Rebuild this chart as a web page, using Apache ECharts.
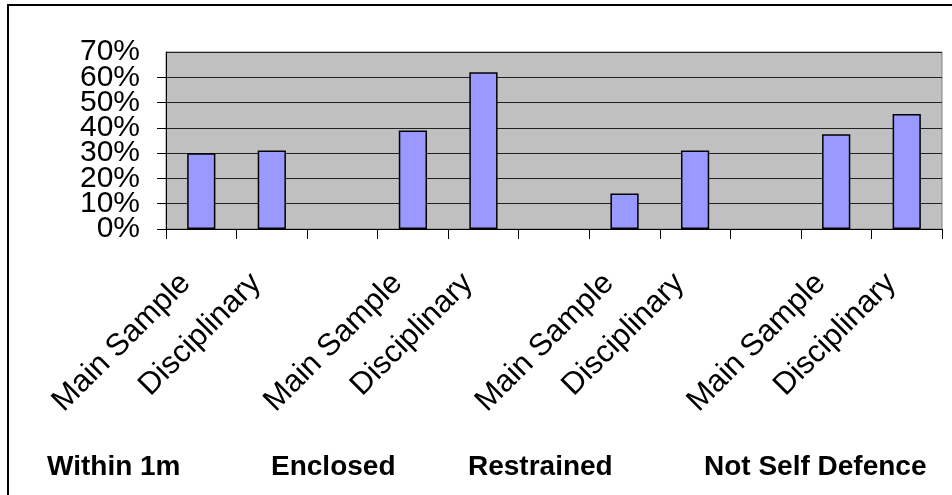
<!DOCTYPE html>
<html>
<head>
<meta charset="utf-8">
<script src="https://cdn.jsdelivr.net/npm/echarts@6/dist/echarts.min.js"></script>
<style>
html,body{margin:0;padding:0;background:#fff;}
#chart{width:952px;height:495px;}
</style>
</head>
<body>
<div id="chart"></div>
<script>
var categories = ['Main Sample','Disciplinary','','Main Sample','Disciplinary','','Main Sample','Disciplinary','','Main Sample','Disciplinary'];
var values = [0.30, 0.31, null, 0.39, 0.62, null, 0.14, 0.31, null, 0.375, 0.455];
var yTicks = [0, 0.1, 0.2, 0.3, 0.4, 0.5, 0.6, 0.7];
var groupLabels = ['Within 1m', 'Enclosed', 'Restrained', 'Not Self Defence'];
var groupLabelX = [47, 271, 468, 704];

var FONT = '"Liberation Sans", Arial, sans-serif';
var chart = echarts.init(document.getElementById('chart'));

var graphics = [{
  type: 'rect',
  shape: {x: 8, y: 5, width: 1000, height: 600},
  style: {fill: 'none', stroke: '#000', lineWidth: 2},
  silent: true
}];
groupLabels.forEach(function (t, i) {
  graphics.push({
    type: 'text',
    x: groupLabelX[i], y: 467,
    style: {text: t, font: 'bold 28px ' + FONT, fill: '#000', verticalAlign: 'middle', align: 'left'}
  });
});

function pct(v) { return Math.round(v * 100); }
function yAxisFor(parity, main) {
  return {
    type: 'value',
    position: 'left',
    min: yTicks[0], max: yTicks[yTicks.length - 1], interval: 0.1,
    axisLine: {show: main, lineStyle: {color: '#000', width: 1}},
    axisTick: {show: main, length: 9, lineStyle: {color: '#000'}},
    axisLabel: {margin: 26, fontSize: 30, fontFamily: FONT, color: '#000',
      showMinLabel: parity === 0, showMaxLabel: parity === 1, hideOverlap: false,
      formatter: function (v) { var p = pct(v); return (p / 10) % 2 === parity ? p + '%' : ''; }},
    splitLine: {show: main, lineStyle: {color: '#222', width: 1}}
  };
}

chart.setOption({
  animation: false,
  backgroundColor: '#fff',
  grid: {left: 166, right: 10, top: 52, bottom: 266, show: true, backgroundColor: '#C0C0C0', borderColor: '#808080', borderWidth: 1},
  xAxis: {
    type: 'category',
    data: categories,
    boundaryGap: true,
    axisLine: {show: true, lineStyle: {color: '#000', width: 1}},
    axisTick: {show: true, interval: 0, length: 10, lineStyle: {color: '#000'}},
    axisLabel: {interval: 0, rotate: 45, margin: 34, padding: [0, 22, 0, 0], fontSize: 31, fontFamily: FONT, color: '#000', hideOverlap: false},
    splitLine: {show: false}
  },
  yAxis: [yAxisFor(0, true), yAxisFor(1, false)],
  series: [{
    type: 'bar',
    yAxisIndex: 0,
    data: values,
    barWidth: '40%',
    itemStyle: {color: '#9999FF', borderColor: '#000', borderWidth: 1.5}
  }],
  graphic: graphics
});
</script>
</body>
</html>
